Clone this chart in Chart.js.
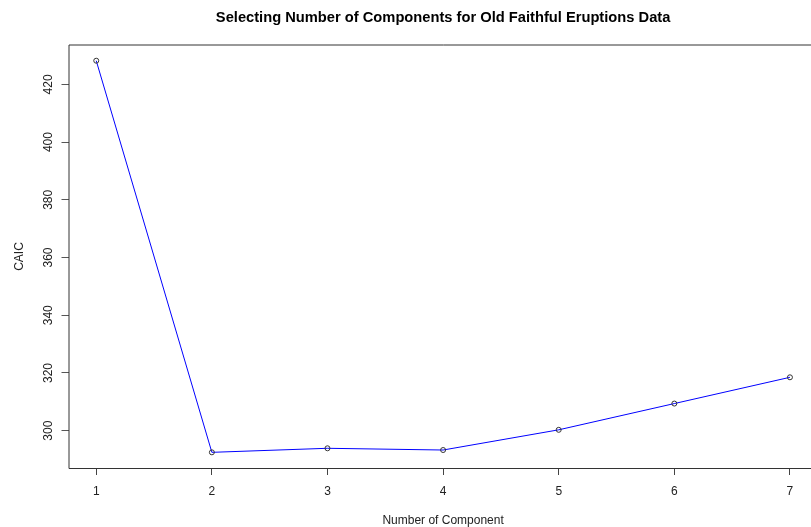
<!DOCTYPE html>
<html>
<head>
<meta charset="utf-8">
<script src="https://cdn.jsdelivr.net/npm/chart.js@4/dist/chart.umd.min.js"></script>
<style>
  html, body { margin: 0; padding: 0; background: #fff; overflow: hidden; }
  #wrap { position: relative; width: 830px; height: 527px; }
</style>
</head>
<body>
<div id="wrap"><canvas id="caicChart"></canvas></div>
<script>
// number of mixture components vs. CAIC
const components = [1, 2, 3, 4, 5, 6, 7];
const caic = [428.2, 292.5, 293.9, 293.3, 300.3, 309.4, 318.5];
const xTicks = [1, 2, 3, 4, 5, 6, 7];
const yTicks = [300, 320, 340, 360, 380, 400, 420];

const FONT = '"Liberation Sans", Arial, Helvetica, sans-serif';
const TEXT = '#222';

// base-graphics style box around the plot region
const plotBox = {
  id: 'plotBox',
  beforeDatasetsDraw(chart) {
    const { ctx, chartArea: a } = chart;
    const top = Math.round(a.top);
    const left = Math.round(a.left);
    const bottom = Math.round(a.bottom) + 0.5;
    const right = Math.round(a.right);
    ctx.save();
    ctx.strokeStyle = '#333';
    ctx.lineWidth = 1;
    ctx.beginPath();
    ctx.moveTo(left, bottom);
    ctx.lineTo(left, top);
    ctx.lineTo(right, top);
    ctx.lineTo(right, bottom);
    ctx.stroke();
    ctx.beginPath();
    ctx.moveTo(left, bottom);
    ctx.lineTo(right, bottom);
    ctx.stroke();
    ctx.restore();
  }
};

// pad both ranges by 4% like R does
const pad = (lo, hi) => [lo - (hi - lo) * 0.04, hi + (hi - lo) * 0.04];
const [xMin, xMax] = pad(Math.min(...components), Math.max(...components));
const [yMin, yMax] = pad(Math.min(...caic), Math.max(...caic));

new Chart(document.getElementById('caicChart'), {
  type: 'line',
  data: {
    datasets: [{
      data: components.map((c, i) => ({ x: c, y: caic[i] })),
      borderColor: '#0000ff',
      borderWidth: 1,
      tension: 0,
      fill: false,
      pointRadius: 2.5,
      pointBorderWidth: 1,
      pointBorderColor: '#333',
      pointBackgroundColor: 'rgba(0,0,0,0)',
    }],
  },
  options: {
    responsive: true,
    maintainAspectRatio: false,
    animation: false,
    layout: { padding: { left: 0, top: 0, right: 12.3, bottom: 0 } },
    plugins: {
      legend: { display: false },
      tooltip: { enabled: false },
      title: {
        display: true,
        text: 'Selecting Number of Components for Old Faithful Eruptions Data',
        fullSize: false,
        color: '#000',
        font: { family: FONT, size: 14.7, weight: 'bold' },
        padding: { top: 8.7, bottom: 18.7 },
      },
    },
    scales: {
      x: {
        type: 'linear',
        min: xMin,
        max: xMax,
        afterBuildTicks: s => { s.ticks = xTicks.map(v => ({ value: v })); },
        afterFit: s => { s.height = 59; },
        border: { display: false },
        grid: { drawOnChartArea: false, drawTicks: true, tickLength: 7, tickColor: '#444' },
        ticks: { padding: 9, color: TEXT, font: { family: FONT, size: 12 } },
        title: {
          display: true,
          text: 'Number of Component',
          color: TEXT,
          font: { family: FONT, size: 12 },
          padding: { top: 0, bottom: -1 },
        },
      },
      y: {
        type: 'linear',
        min: yMin,
        max: yMax,
        afterBuildTicks: s => { s.ticks = yTicks.map(v => ({ value: v })); },
        afterFit: s => { s.width = 68.5; },
        border: { display: false },
        grid: { drawOnChartArea: false, drawTicks: true, tickLength: 7, tickColor: '#555' },
        ticks: {
          minRotation: 90,
          maxRotation: 90,
          crossAlign: 'center',
          padding: 3,
          color: TEXT,
          font: { family: FONT, size: 12 },
        },
        title: {
          display: true,
          text: 'CAIC',
          color: TEXT,
          font: { family: FONT, size: 12 },
          padding: { top: 12.3, bottom: 0 },
        },
      },
    },
  },
  plugins: [plotBox],
});
</script>
</body>
</html>
